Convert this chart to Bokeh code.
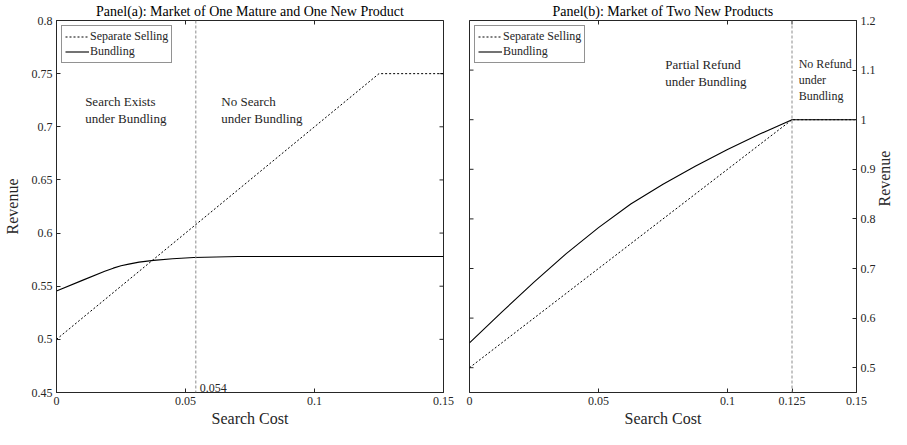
import math
from bokeh.plotting import figure
from bokeh.models import Range1d, FixedTicker, Legend, LegendItem, Label, Span
from bokeh.layouts import row
from bokeh.embed import file_html
from bokeh.resources import INLINE

# ---------------- data ----------------
# Panel (a): one mature and one new product
cost_sep_a = [0.0, 0.125, 0.15]
rev_sep_a = [0.5, 0.75, 0.75]
cost_bun_a = [0.0, 0.01, 0.0187, 0.022, 0.025, 0.028, 0.032, 0.0376, 0.045, 0.0532, 0.0705, 0.15]
rev_bun_a = [0.5455, 0.5555, 0.5641, 0.5670, 0.5692, 0.5708, 0.5727, 0.5743, 0.5758, 0.577, 0.578, 0.578]
cutoff_a = 0.054

# Panel (b): two new products
cost_sep_b = [0.0, 0.125, 0.15]
rev_sep_b = [0.5, 1.0, 1.0]
cost_bun_b = [0.0, 0.0125, 0.025, 0.0375, 0.05, 0.0625, 0.075, 0.0875, 0.1, 0.1125, 0.125, 0.15]
rev_bun_b = [0.55, 0.612, 0.6725, 0.730, 0.7825, 0.830, 0.870, 0.906, 0.940, 0.971, 1.0, 1.0]
cutoff_b = 0.125

x_lim_a = (0.0, 0.15)
y_lim_a = (0.45, 0.8)
x_lim_b = (0.0, 0.15)
y_lim_b = (0.45, 1.2)

x_ticks_a = [0, 0.05, 0.1, 0.15]
x_labels_a = ["0", "0.05", "0.1", "0.15"]
y_ticks_a = [0.45, 0.5, 0.55, 0.6, 0.65, 0.7, 0.75, 0.8]
y_labels_a = ["0.45", "0.5", "0.55", "0.6", "0.65", "0.7", "0.75", "0.8"]
x_ticks_b = [0, 0.05, 0.1, 0.125, 0.15]
x_labels_b = ["0", "0.05", "0.1", "0.125", "0.15"]
y_ticks_b = [0.5, 0.6, 0.7, 0.8, 0.9, 1.0, 1.1, 1.2]
y_labels_b = ["0.5", "0.6", "0.7", "0.8", "0.9", "1", "1.1", "1.2"]

FONT = "Liberation Serif"
INK = "#262626"
GRAY_LINE = "#8c8c8c"


def style_axis(ax, ticks, labels):
    ax.ticker = FixedTicker(ticks=ticks)
    ax.major_tick_in = 4
    ax.major_tick_out = 0
    ax.minor_tick_line_color = None
    ax.axis_line_color = INK
    ax.major_tick_line_color = INK
    ax.major_label_text_font = FONT
    ax.major_label_text_color = INK
    ax.major_label_text_font_size = "12px"
    ax.major_label_standoff = 4
    ax.major_label_overrides = {t: l for t, l in zip(ticks, labels)}
    ax.axis_label_text_font = FONT
    ax.axis_label_text_font_style = "normal"
    ax.axis_label_text_color = INK
    ax.axis_label_text_font_size = "16px"


def mirror_ticks(p, x_ticks=None, y_ticks=None, x_at=None, y_at=None):
    # inside tick marks on the unlabeled sides of the box (half is clipped by the frame)
    if x_ticks is not None:
        p.scatter(x=x_ticks, y=[y_at] * len(x_ticks), marker="dash", angle=math.pi / 2,
                  size=8, line_color=INK, line_width=1)
    if y_ticks is not None:
        p.scatter(x=[x_at] * len(y_ticks), y=y_ticks, marker="dash",
                  size=8, line_color=INK, line_width=1)


def make_title(p, text):
    p.title.text = text
    p.title.align = "center"
    p.title.text_font = FONT
    p.title.text_font_size = "14px"
    p.title.text_font_style = "normal"
    p.title.text_color = "#000000"
    p.title.standoff = 3


def add_note(p, x, y, text, size="13px"):
    lab = Label(x=x, y=y, text=text, text_font=FONT, text_font_size=size,
                text_color=INK, text_baseline="top", text_align="left",
                text_line_height=1.15)
    p.add_layout(lab)


def add_legend(p, r_sep, r_bun):
    leg = Legend(items=[LegendItem(label="Separate Selling", renderers=[r_sep]),
                        LegendItem(label="Bundling", renderers=[r_bun])],
                 location="top_left")
    leg.label_text_font = FONT
    leg.label_text_font_size = "12px"
    leg.label_text_color = INK
    leg.border_line_color = INK
    leg.border_line_width = 1
    leg.background_fill_color = "white"
    leg.background_fill_alpha = 1
    leg.glyph_width = 24
    leg.glyph_height = 15
    leg.label_height = 15
    leg.label_standoff = 1
    leg.spacing = 0
    leg.padding = 3
    leg.margin = 5
    p.add_layout(leg)


def base_style(p):
    p.xgrid.grid_line_color = None
    p.ygrid.grid_line_color = None
    p.outline_line_color = INK
    p.outline_line_width = 1


H = 429
FW = 387

# ---------------- Panel (a) ----------------
pa = figure(frame_width=FW, height=H, output_backend="svg", toolbar_location=None,
            x_range=Range1d(*x_lim_a), y_range=Range1d(*y_lim_a),
            min_border_left=0, min_border_right=12, min_border_top=0, min_border_bottom=0)
make_title(pa, "Panel(a): Market of One Mature and One New Product")
base_style(pa)
style_axis(pa.xaxis[0], x_ticks_a, x_labels_a)
style_axis(pa.yaxis[0], y_ticks_a, y_labels_a)
pa.xaxis[0].axis_label = "Search Cost"
pa.yaxis[0].axis_label = "Revenue"
pa.xaxis[0].axis_label_standoff = 2
pa.yaxis[0].axis_label_standoff = 8
mirror_ticks(pa, x_ticks=x_ticks_a, y_at=y_lim_a[1], y_ticks=y_ticks_a, x_at=x_lim_a[1])

pa.add_layout(Span(location=cutoff_a, dimension="height", line_color=GRAY_LINE,
                   line_dash="3 2", line_width=1))
ra_sep = pa.line(cost_sep_a, rev_sep_a, line_color="black", line_width=1, line_dash="2 2")
ra_bun = pa.line(cost_bun_a, rev_bun_a, line_color="black", line_width=1.1)
add_legend(pa, ra_sep, ra_bun)
add_note(pa, 0.0111, 0.731, "Search Exists\nunder Bundling")
add_note(pa, 0.0639, 0.731, "No Search\nunder Bundling")
pa.add_layout(Label(x=cutoff_a, y=y_lim_a[0], text="0.054", text_font=FONT,
                    text_font_size="12px", text_color=INK, text_baseline="bottom",
                    x_offset=4, y_offset=1))

# ---------------- Panel (b) ----------------
pb = figure(frame_width=FW, height=H, output_backend="svg", toolbar_location=None,
            x_range=Range1d(*x_lim_b), y_range=Range1d(*y_lim_b),
            y_axis_location="right",
            min_border_left=14, min_border_right=0, min_border_top=0, min_border_bottom=0)
make_title(pb, "Panel(b): Market of Two New Products")
base_style(pb)
style_axis(pb.xaxis[0], x_ticks_b, x_labels_b)
style_axis(pb.yaxis[0], y_ticks_b, y_labels_b)
pb.xaxis[0].axis_label = "Search Cost"
pb.yaxis[0].axis_label = "Revenue"
pb.xaxis[0].axis_label_standoff = 2
pb.yaxis[0].axis_label_standoff = 6
try:
    pb.yaxis[0].axis_label_orientation = math.pi / 2
except Exception:
    pass
mirror_ticks(pb, x_ticks=x_ticks_b, y_at=y_lim_b[1], y_ticks=y_ticks_b, x_at=x_lim_b[0])

pb.add_layout(Span(location=cutoff_b, dimension="height", line_color=GRAY_LINE,
                   line_dash="3 2", line_width=1))
rb_sep = pb.line(cost_sep_b, rev_sep_b, line_color="black", line_width=1, line_dash="2 2")
rb_bun = pb.line(cost_bun_b, rev_bun_b, line_color="black", line_width=1.1)
add_legend(pb, rb_sep, rb_bun)
add_note(pb, 0.0759, 1.126, "Partial Refund\nunder Bundling")
add_note(pb, 0.1276, 1.126, "No Refund\nunder\nBundling", size="12px")

layout = row(pa, pb, spacing=0)
open("out.html", "w").write(file_html(layout, INLINE))
